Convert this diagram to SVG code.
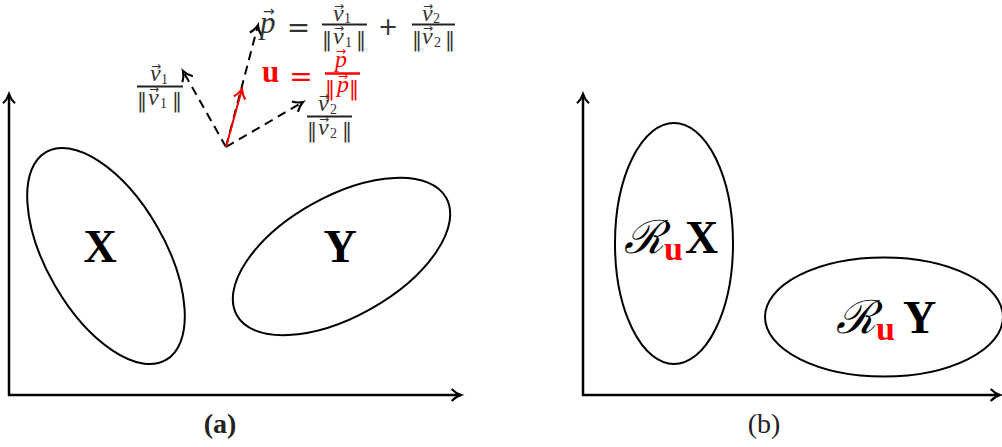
<svg xmlns="http://www.w3.org/2000/svg" width="1002" height="447" viewBox="0 0 1002 447">
<style>
.ax{stroke:#000;stroke-width:2.5;fill:none}
.el{stroke:#000;stroke-width:2;fill:none}
.dash{stroke:#000;stroke-width:2;fill:none;stroke-dasharray:9 6}
.red{stroke:#e00;stroke-width:2;fill:none}
.bar{stroke:#222;stroke-width:2}
.rbar{stroke:#f00;stroke-width:2.5}
.v{font-family:"Liberation Serif",serif;font-style:italic;font-size:24px;fill:#333}
.s{font-family:"Liberation Serif",serif;font-size:14px;fill:#333}
.ar{font-family:"DejaVu Sans",sans-serif;font-size:12px;fill:#333}
.nm{font-family:"DejaVu Serif",serif;font-size:20px;fill:#333}
.sym{font-family:"DejaVu Sans",sans-serif;fill:#333}
.big{font-family:"Liberation Serif",serif;font-weight:bold;fill:#000}
.cap{font-family:"Liberation Serif",serif;fill:#222}
.rd{fill:#f00}
</style>
<defs>
<marker id="ah" markerUnits="userSpaceOnUse" markerWidth="16" markerHeight="16" viewBox="-8 -6 10 12" refX="0" refY="0" orient="auto"><path d="M-7,-4.5 C-4.5,-1.8 -1.5,-0.5 0,0 C-1.5,0.5 -4.5,1.8 -7,4.5" fill="none" stroke="#000" stroke-width="1.6"/></marker>
<marker id="ahr" markerUnits="userSpaceOnUse" markerWidth="16" markerHeight="16" viewBox="-8 -6 10 12" refX="0" refY="0" orient="auto"><path d="M-7,-4.5 C-4.5,-1.8 -1.5,-0.5 0,0 C-1.5,0.5 -4.5,1.8 -7,4.5" fill="none" stroke="#e00" stroke-width="1.6"/></marker>
</defs>
<g id="panel-a-axes">
<path class="ax" d="M9,396 V94" marker-end="url(#ah)"/>
<path class="ax" d="M8,395 H461" marker-end="url(#ah)"/>
</g>
<g id="node-X">
<ellipse class="el" cx="106" cy="256" rx="120" ry="59" transform="rotate(60 106 256)"/>
<text class="big" x="100" y="262" font-size="46" text-anchor="middle">X</text>
</g>
<g id="node-Y">
<ellipse class="el" cx="341.5" cy="256.5" rx="120" ry="60" transform="rotate(-29.3 341.5 256.5)"/>
<text class="big" x="340" y="262" font-size="46" text-anchor="middle">Y</text>
</g>
<g id="connectors">
<path class="dash" d="M226,147 L183,71" marker-end="url(#ah)"/>
<path class="dash" d="M226,147 L258,25" marker-end="url(#ah)"/>
<path class="dash" d="M226,147 L303,102" marker-end="url(#ah)"/>
<path class="red" d="M226,147 L242,89" marker-end="url(#ahr)"/>
</g>
<g id="label-p">
<text class="v" x="260" y="33" style="font-size:31px">p</text>
<text class="ar" x="263" y="16" style="font-size:14px">→</text>
<text class="sym" x="298.5" y="36.5" font-size="28" text-anchor="middle">=</text>
<text class="v" x="333" y="21">v</text><text class="ar" x="334" y="10">→</text><text class="s" x="344" y="23">1</text>
<line class="bar" x1="322" y1="24.5" x2="367" y2="24.5"/>
<text class="nm" x="322" y="46">‖</text><text class="v" x="333" y="44">v</text><text class="ar" x="334" y="32">→</text><text class="s" x="345" y="47">1</text><text class="nm" x="356" y="46">‖</text>
<text class="sym" x="388" y="35" font-size="24" text-anchor="middle">+</text>
<text class="v" x="422" y="21">v</text><text class="ar" x="423" y="10">→</text><text class="s" x="433" y="23">2</text>
<line class="bar" x1="412" y1="24.5" x2="455" y2="24.5"/>
<text class="nm" x="412" y="46">‖</text><text class="v" x="422" y="44">v</text><text class="ar" x="423" y="32">→</text><text class="s" x="434" y="47">2</text><text class="nm" x="445" y="46">‖</text>
</g>
<g id="label-u">
<text class="big rd" x="262" y="82" font-size="31">u</text>
<text class="sym rd" x="301" y="85.5" font-size="28" text-anchor="middle">=</text>
<text class="v rd" x="335" y="67">p</text><text class="ar rd" x="336" y="55">→</text>
<line class="rbar" x1="325" y1="73.5" x2="360" y2="73.5"/>
<text class="nm rd" x="325" y="95">‖</text><text class="v rd" x="337" y="92">p</text><text class="ar rd" x="338" y="80">→</text><text class="nm rd" x="349" y="95">‖</text>
</g>
<g id="label-v1">
<text class="v" x="150" y="81">v</text><text class="ar" x="151" y="70">→</text><text class="s" x="161" y="84">1</text>
<line class="bar" x1="137" y1="86.5" x2="183" y2="86.5"/>
<text class="nm" x="137" y="107">‖</text><text class="v" x="148" y="105">v</text><text class="ar" x="149" y="93">→</text><text class="s" x="160" y="108">1</text><text class="nm" x="172" y="107">‖</text>
</g>
<g id="label-v2">
<text class="v" x="318" y="111">v</text><text class="ar" x="319" y="100">→</text><text class="s" x="330" y="114">2</text>
<line class="bar" x1="307" y1="116.5" x2="352" y2="116.5"/>
<text class="nm" x="307" y="137">‖</text><text class="v" x="318" y="135">v</text><text class="ar" x="319" y="123">→</text><text class="s" x="330" y="138">2</text><text class="nm" x="342" y="137">‖</text>
</g>
<text class="big" x="220" y="433" font-size="28" text-anchor="middle" style="fill:#222">(a)</text>
<g id="panel-b-axes">
<path class="ax" d="M583,396 V94" marker-end="url(#ah)"/>
<path class="ax" d="M582,395 H1000" marker-end="url(#ah)"/>
</g>
<g id="node-RuX">
<ellipse class="el" cx="674" cy="243.5" rx="59" ry="120.5"/>
<text x="624" y="253" font-size="46" font-family="Liberation Serif,serif" font-style="italic" fill="#000">ℛ<tspan font-style="normal" font-weight="bold" font-size="34" fill="#f00" dy="7">u</tspan><tspan font-style="normal" font-weight="bold" font-size="46" dy="-7" dx="2">X</tspan></text>
</g>
<g id="node-RuY">
<ellipse class="el" cx="884" cy="317" rx="119" ry="59.5"/>
<text x="836" y="333" font-size="46" font-family="Liberation Serif,serif" font-style="italic" fill="#000">ℛ<tspan font-style="normal" font-weight="bold" font-size="34" fill="#f00" dy="7">u</tspan><tspan font-style="normal" font-weight="bold" font-size="46" dy="-7" dx="8">Y</tspan></text>
</g>
<text class="cap" x="764" y="433" font-size="28" text-anchor="middle">(b)</text>
</svg>
